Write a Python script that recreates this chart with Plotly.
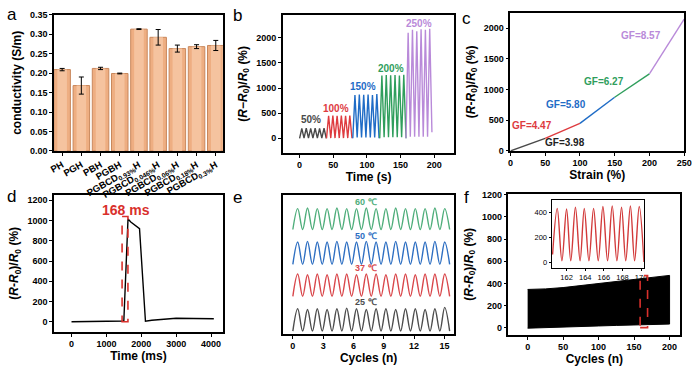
import plotly.graph_objects as go

W, H = 700, 369
FONT = "Liberation Sans"

# ---------------- data ----------------
# (a) conductivity bars
samples = ["PH", "PGH", "PBH", "PGBH",
           "PGBCD<sub>0.93%</sub>H", "PGBCD<sub>0.046%</sub>H", "PGBCD<sub>0.06%</sub>H",
           "PGBCD<sub>0.18%</sub>H", "PGBCD<sub>0.3%</sub>H"]
conductivity = [0.209, 0.168, 0.212, 0.199, 0.313, 0.292, 0.263, 0.268, 0.271]
conductivity_err = [0.003, 0.022, 0.003, 0.001, 0.001, 0.020, 0.009, 0.005, 0.013]
a_tickvals = [0, 0.05, 0.10, 0.15, 0.20, 0.25, 0.30, 0.35]
a_ticktext = ["0.00", "0.05", "0.10", "0.15", "0.20", "0.25", "0.30", "0.35"]

# (b) step strain cycles (vertices of the triangular signals)
b_t50 = [0, 3.3, 6.6, 9.9, 13.2, 16.5, 19.8, 23.1, 26.4, 29.7, 33.0, 36.3, 39.6]
b_y50 = [0, 195, 5, 200, 5, 195, 5, 200, 5, 195, 5, 200, 0]
b_t100 = [40, 43.1, 46.3, 49.4, 52.6, 55.7, 58.9, 62.0, 65.2, 68.3, 71.5, 74.6, 77.8]
b_y100 = [0, 450, 5, 455, 5, 450, 5, 455, 5, 450, 5, 455, 0]
b_t150 = [79, 82.2, 85.5, 88.7, 92.0, 95.2, 98.5, 101.7, 105.0, 108.2, 111.5, 114.7, 118]
b_y150 = [0, 860, 15, 870, 15, 865, 15, 870, 15, 860, 15, 880, 0]
b_t200 = [119, 122.2, 125.5, 128.7, 132.0, 135.2, 138.5, 141.7, 145.0, 148.2, 151.5, 154.7, 158]
b_y200 = [0, 1250, 20, 1260, 20, 1255, 20, 1260, 20, 1250, 20, 1265, 0]
b_t250 = [158, 161.2, 164.4, 167.6, 170.8, 174.0, 177.2, 180.4, 183.6, 186.8, 190.0, 193.2, 196.5]
b_y250 = [0, 2100, 30, 2160, 30, 2130, 30, 2170, 30, 2160, 30, 2180, 120]
strain_labels = ["50%", "100%", "150%", "200%", "250%"]

# (c) gauge factor segments
c_strain = [0, 50, 100, 150, 200, 250]
c_resp = [0, 205, 448, 875, 1255, 2145]
gf_labels = ["GF=3.98", "GF=4.47", "GF=5.80", "GF=6.27", "GF=8.57"]

# (d) response time
d_time = [0, 500, 1000, 1500, 1620, 1700, 1950, 2120, 2300, 2600, 3000, 3500, 4080]
d_resp = [0, 3, 6, 8, 1015, 985, 920, 5, 15, 25, 35, 32, 30]

# (e) temperature cycles (peak / trough vertices)
e_cycles = [0, 0.48, 0.97, 1.45, 1.94, 2.42, 2.91, 3.39, 3.88, 4.36, 4.85, 5.33, 5.82,
            6.30, 6.79, 7.27, 7.76, 8.24, 8.73, 9.21, 9.70, 10.18, 10.67, 11.15, 11.64,
            12.12, 12.61, 13.09, 13.58, 14.06, 14.55, 15.03, 15.52]
e_25 = [2, 18, 2, 17.5, 2, 18, 2, 17.5, 2, 18, 2, 18.5, 2, 18, 2, 17.5, 2, 18, 2, 18,
        2, 17.5, 2, 18, 2, 18, 2, 17.5, 2, 18, 2, 19, 2]
e_37 = [27, 43, 27, 42.5, 27, 43, 27, 42.5, 27, 43, 27, 43, 27, 42.5, 27, 43, 27, 43,
        27, 42.5, 27, 43, 27, 43, 27, 42.5, 27, 43, 27, 43, 27, 43, 27]
e_50 = [50, 66, 50, 66.5, 50, 66, 50, 66, 50, 66.5, 50, 66, 50, 66, 50, 66.5, 50, 66,
        50, 66, 50, 66.5, 50, 66, 50, 66, 50, 66, 50, 66.5, 50, 66, 50]
e_60 = [75, 90, 75, 90.5, 75, 90, 75, 90, 75, 90.5, 75, 90, 75, 90, 75, 90.5, 75, 90,
        75, 90, 75, 90.5, 75, 90, 75, 90, 75, 90, 75, 90.5, 75, 90, 75]
temp_labels = ["25 ℃", "37 ℃", "50 ℃", "60 ℃"]

# (f) long-term cycling envelope
f_cycles = [0, 25, 50, 75, 100, 125, 150, 175, 200]
f_upper = [345, 350, 362, 380, 398, 415, 432, 452, 472]
f_lower = [-5, 0, 5, 10, 15, 20, 25, 30, 32]
# (f) inset
fi_cycles = [160.5, 161.0, 161.5, 162.0, 162.45, 162.95, 163.45, 163.9, 164.4, 164.9,
             165.4, 165.9, 166.4, 166.9, 167.4, 167.9, 168.35, 168.85, 169.3, 169.8, 170.3]
fi_resp = [60, 430, 10, 425, 10, 440, 10, 430, 10, 430, 10, 445, 10, 450, 10, 440, 10,
           450, 10, 445, 0]

# ---------------- styling ----------------
GRAY = "#4a4a4a"
RED = "#de3b3f"
BLUE = "#1f6cc6"
GREEN = "#2f9e5c"
PURPLE = "#b98ad9"
seg_colors = [GRAY, RED, BLUE, GREEN, PURPLE]


def dom_x(a, b):
    return [a / W, b / W]


def dom_y(top, bottom):
    return [1 - bottom / H, 1 - top / H]


def ax(**kw):
    d = dict(showline=True, mirror=True, linecolor="black", linewidth=1.5,
             ticks="outside", ticklen=3, tickwidth=1.2, tickcolor="black",
             showgrid=False, zeroline=False,
             tickfont=dict(family=FONT, size=9, color="black", weight="bold"),
             title_font=dict(family=FONT, size=12, color="black", weight="bold"))
    d.update(kw)
    return d


RTITLE = "(<i>R</i>-<i>R</i><sub>0</sub>)/<i>R</i><sub>0</sub> (%)"
RTITLE_B = "(<i>R</i>−<i>R</i><sub>0</sub>)/<i>R</i><sub>0</sub> (%)"

fig = go.Figure()

# (a)
fig.add_trace(go.Bar(x=samples, y=conductivity, width=0.86, xaxis="x", yaxis="y",
                     marker=dict(color="#eeae82", line=dict(color="#c8875c", width=1))))
fig.add_trace(go.Bar(x=samples, y=conductivity, width=0.5, xaxis="x", yaxis="y",
                     marker=dict(color="#f5c39f", line=dict(width=0)),
                     error_y=dict(type="data", array=conductivity_err, color="black",
                                  thickness=1, width=2.5)))

# (b)
for t, y, c in zip([b_t50, b_t100, b_t150, b_t200, b_t250],
                   [b_y50, b_y100, b_y150, b_y200, b_y250], seg_colors):
    fig.add_trace(go.Scatter(x=t, y=y, mode="lines", line=dict(color=c, width=1.4),
                             xaxis="x2", yaxis="y2"))

# (c)
for i, c in enumerate(seg_colors):
    fig.add_trace(go.Scatter(x=c_strain[i:i + 2], y=c_resp[i:i + 2], mode="lines",
                             line=dict(color=c, width=1.4), xaxis="x3", yaxis="y3"))

# (d)
fig.add_trace(go.Scatter(x=d_time, y=d_resp, mode="lines", line=dict(color="black", width=1.4),
                         xaxis="x4", yaxis="y4"))

# (e)
temp_colors = ["#4d4d4d", "#d9474b", "#2e6fc2", "#4fae7b"]
for y, c in zip([e_25, e_37, e_50, e_60], temp_colors):
    fig.add_trace(go.Scatter(x=e_cycles, y=y, mode="lines",
                             line=dict(color=c, width=1.4, shape="spline", smoothing=1),
                             xaxis="x5", yaxis="y5"))

# (f)
fig.add_trace(go.Scatter(x=f_cycles + f_cycles[::-1], y=f_upper + f_lower[::-1],
                         mode="lines", fill="toself", fillcolor="black",
                         line=dict(color="black", width=1), xaxis="x6", yaxis="y6"))
fig.add_trace(go.Scatter(x=fi_cycles, y=fi_resp, mode="lines",
                         line=dict(color="#d23a3a", width=1.4, shape="spline", smoothing=1),
                         xaxis="x7", yaxis="y7"))

fig.update_layout(
    width=W, height=H, margin=dict(l=0, r=0, t=0, b=0),
    paper_bgcolor="white", plot_bgcolor="white", showlegend=False,
    barmode="overlay",
    font=dict(family=FONT, color="black"),
    xaxis=ax(domain=dom_x(50, 222), anchor="y", range=[-0.42, 8.37], tickangle=-30,
             tickfont=dict(family=FONT, size=9.5, color="black", weight="bold")),
    yaxis=ax(domain=dom_y(10, 150), anchor="x", range=[0, 0.35],
             tickmode="array", tickvals=a_tickvals, ticktext=a_ticktext,
             title=dict(text="conductivity (S/m)", standoff=6)),
    xaxis2=ax(domain=dom_x(283, 458), anchor="y2", range=[-25, 230], dtick=50,
              title=dict(text="Time (s)", standoff=2)),
    yaxis2=ax(domain=dom_y(10, 152), anchor="x2", range=[-290, 2460], dtick=500,
              title=dict(text=RTITLE_B, standoff=6)),
    xaxis3=ax(domain=dom_x(515, 692), anchor="y3", range=[0, 250], dtick=50,
              title=dict(text="Strain (%)", standoff=2)),
    yaxis3=ax(domain=dom_y(8, 150), anchor="x3", range=[0, 2250], dtick=500,
              title=dict(text=RTITLE, standoff=6)),
    xaxis4=ax(domain=dom_x(50, 222), anchor="y4", range=[-500, 4340], dtick=1000,
              title=dict(text="Time (ms)", standoff=2)),
    yaxis4=ax(domain=dom_y(195, 336), anchor="x4", range=[-100, 1255], dtick=200,
              title=dict(text=RTITLE, standoff=6)),
    xaxis5=ax(domain=dom_x(283, 458), anchor="y5", range=[-1, 16], dtick=3,
              title=dict(text="Cycles (n)", standoff=2)),
    yaxis5=ax(domain=dom_y(195, 338), anchor="x5", range=[0, 100], ticks="",
              showticklabels=False),
    xaxis6=ax(domain=dom_x(513, 688), anchor="y6", range=[-27, 215], dtick=50,
              title=dict(text="Cycles (n)", standoff=2)),
    yaxis6=ax(domain=dom_y(194, 339), anchor="x6", range=[-65, 1210], dtick=200,
              title=dict(text=RTITLE, standoff=6)),
    xaxis7=ax(domain=dom_x(557, 651), anchor="y7", range=[160.4, 170.3], dtick=2, tick0=162,
              linewidth=1.2, ticklen=2,
              tickfont=dict(family=FONT, size=7.5, color="black")),
    yaxis7=ax(domain=dom_y(200, 270), anchor="x7", range=[-45, 500], dtick=200,
              linewidth=1.2, ticklen=2,
              tickfont=dict(family=FONT, size=7.5, color="black")),
)

ann = []
# panel letters
for txt, x, y in [("a", 7, 10), ("b", 237, 11), ("c", 470, 14),
                  ("d", 7, 197), ("e", 237, 198), ("f", 470, 198)]:
    ann.append(dict(text=txt, x=x / W, y=1 - y / H, xref="paper", yref="paper",
                    xanchor="center", yanchor="middle", showarrow=False,
                    font=dict(family=FONT, size=17, color="black")))
# (b) strain labels
for txt, x, y, c in zip(strain_labels, [17, 54, 94, 135, 178], [382, 602, 1029, 1398, 2285],
                        seg_colors):
    ann.append(dict(text=txt, x=x, y=y, xref="x2", yref="y2", showarrow=False,
                    xanchor="center", yanchor="middle",
                    font=dict(family=FONT, size=10, color=c, weight="bold")))
# (c) GF labels
for txt, x, y, c in zip(gf_labels, [78, 31, 80, 134, 188], [131, 413, 750, 1138, 1878],
                        ["#222222", RED, BLUE, GREEN, PURPLE]):
    ann.append(dict(text=txt, x=x, y=y, xref="x3", yref="y3", showarrow=False,
                    xanchor="center", yanchor="middle",
                    font=dict(family=FONT, size=10, color=c, weight="bold")))
# (d) response time label
ann.append(dict(text="168 ms", x=1560, y=1104, xref="x4", yref="y4", showarrow=False,
                xanchor="center", yanchor="middle",
                font=dict(family=FONT, size=14, color="#d9302c", weight="bold")))
# (e) temperature labels
for txt, y, c in zip(temp_labels, [23, 47, 70.5, 95], temp_colors):
    ann.append(dict(text=txt, x=7.2, y=y, xref="x5", yref="y5", showarrow=False,
                    xanchor="center", yanchor="middle",
                    font=dict(family=FONT, size=9, color=c, weight="bold")))
fig.update_layout(annotations=ann)

fig.update_layout(shapes=[
    dict(type="rect", xref="x4", yref="y4", x0=1450, x1=1618, y0=0, y1=1040,
         line=dict(color="#d9302c", width=1.6, dash="dash")),
    dict(type="rect", xref="x6", yref="y6", x0=158.5, x1=169, y0=0, y1=470,
         line=dict(color="#d9302c", width=1.6, dash="dash")),
])

fig.write_html("out.html", config={"displayModeBar": False},
               post_script="document.body.style.margin='0';")
